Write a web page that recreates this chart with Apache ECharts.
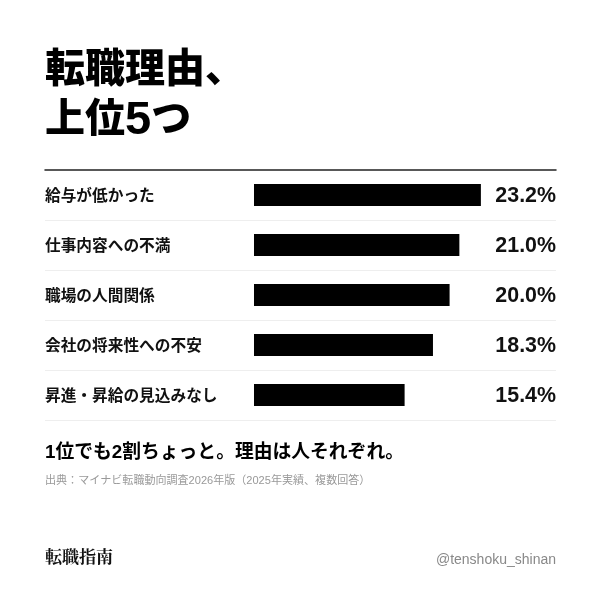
<!DOCTYPE html>
<html><head><meta charset="utf-8">
<style>html,body{margin:0;padding:0;background:#fff}#c{width:600px;height:600px}</style>
<script src="https://cdn.jsdelivr.net/npm/echarts@6/dist/echarts.min.js"></script>
</head><body><div id="c"></div>
<script>
const categories = ['給与が低かった','仕事内容への不満','職場の人間関係','会社の将来性への不安','昇進・昇給の見込みなし'];
const values = [23.2,21.0,20.0,18.3,15.4];
const valueLabels = ['23.2%','21.0%','20.0%','18.3%','15.4%'];
const headline = '転職理由、\n上位{d|5}つ';
const takeaway = '1位でも2割ちょっと。理由は人それぞれ。';
const source = '出典：マイナビ転職動向調査2026年版（2025年実績、複数回答）';
const brand = '転職指南';
const handle = '@tenshoku_shinan';
const JP = '"Liberation Sans","Noto Sans CJK JP",sans-serif';
const chart = echarts.init(document.getElementById('c'), null, {renderer:'canvas'});
const t = (text,left,top,size,weight,color,family,extra) => ({text,left,top,textStyle:Object.assign({fontSize:size,fontWeight:weight,color,fontFamily:family},extra||{}),padding:0});
chart.setOption({
  animation:false,
  backgroundColor:'#fff',
  title:[
    t(headline,45,46,40,900,'#000',JP,{lineHeight:50,rich:{d:{fontSize:47,fontWeight:900,fontFamily:'"Liberation Sans",sans-serif',color:'#000',lineHeight:50}}}),
    t(takeaway,45,443,18.8,700,'#000',JP),
    t(source,45,475,11.05,400,'#999',JP),
    t(brand,45,548,17,700,'#111','"Noto Serif CJK JP",'+JP),
    Object.assign(t(handle,null,553,14,400,'#888','"Liberation Sans",sans-serif'),{left:undefined,right:44})
  ],
  grid:{left:45,width:511,top:170,height:250},
  xAxis:{type:'value',position:'top',min:-21.37,max:30.88,
    axisLine:{show:true,onZero:false,lineStyle:{color:'#222',width:1.5}},
    axisTick:{show:false},axisLabel:{show:false},splitLine:{show:false}},
  yAxis:[
    {type:'category',data:categories,inverse:true,position:'left',
      axisLine:{show:false},axisTick:{show:false},
      axisLabel:{interval:0,inside:true,margin:0,align:'left',verticalAlign:'top',lineHeight:4,fontSize:15.7,fontWeight:700,color:'#111',fontFamily:JP},
      splitLine:{show:true,showMinLine:false,lineStyle:{color:'#eee',width:1.2}}},
    {type:'category',data:valueLabels,inverse:true,position:'right',
      axisLine:{show:false},axisTick:{show:false},
      axisLabel:{interval:0,inside:true,margin:0,align:'right',verticalAlign:'top',lineHeight:3,fontSize:21.4,fontWeight:700,color:'#111',fontFamily:'"Liberation Sans",sans-serif'},
      splitLine:{show:false}}
  ],
  series:[{type:'bar',data:values,barWidth:22,itemStyle:{color:'#000'},yAxisIndex:0}]
});
</script></body></html>
